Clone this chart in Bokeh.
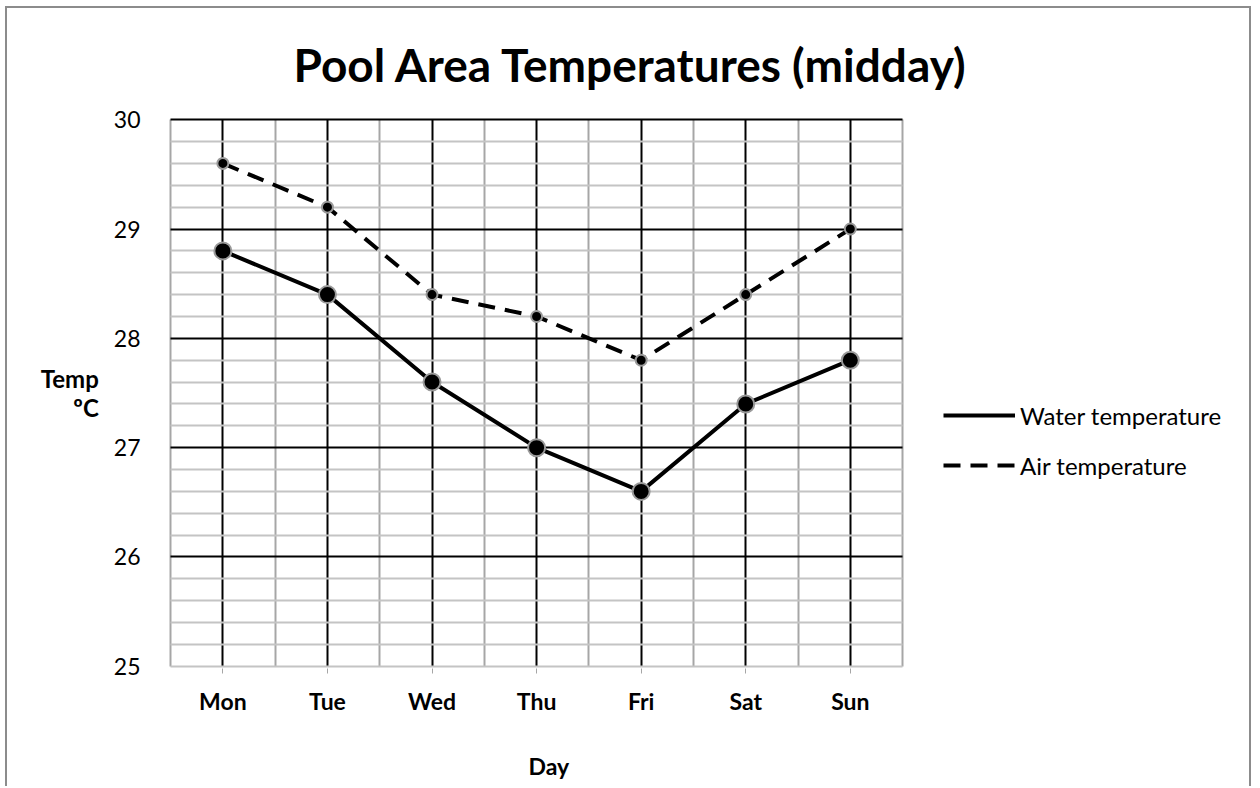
from bokeh.plotting import figure
from bokeh.models import (Range1d, FixedTicker, Legend, LegendItem, Grid, Title)
from bokeh.embed import file_html
from bokeh.resources import INLINE

days = ["Mon", "Tue", "Wed", "Thu", "Fri", "Sat", "Sun"]
water_temp = [28.8, 28.4, 27.6, 27.0, 26.6, 27.4, 27.8]
air_temp = [29.6, 29.2, 28.4, 28.2, 27.8, 28.4, 29.0]
y_ticks = [25, 26, 27, 28, 29, 30]
y_minor = [25.2, 25.4, 25.6, 25.8, 26.2, 26.4, 26.6, 26.8, 27.2, 27.4, 27.6, 27.8,
           28.2, 28.4, 28.6, 28.8, 29.2, 29.4, 29.6, 29.8]

n = len(days)
x_pos = [i + 0.5 for i in range(n)]
x_bounds = [float(i) for i in range(n + 1)]
y_min, y_max = y_ticks[0], y_ticks[-1]

FONT = "Lato"
PAD = 0.02
# plot area: 7 categories over 732 px; the frame continues to the right to host the legend
X_END = -PAD + 1082 * n / 732

p = figure(width=1246, height=780, output_backend="svg", toolbar_location=None,
           x_range=Range1d(-PAD, X_END), y_range=Range1d(y_min - PAD, y_max + PAD),
           min_border_left=161, min_border_right=3, min_border_top=108,
           min_border_bottom=120,
           styles={"margin-left": "5px", "margin-top": "6px",
                   "border-left": "2px solid #8c8c8c", "border-top": "2px solid #8c8c8c",
                   "border-right": "2px solid #8c8c8c"})

p.title.text = "Pool Area Temperatures (midday)"
p.title.align = "left"
p.title.offset = 125
p.title.text_font = FONT
p.title.text_font_size = "46px"
p.title.text_font_style = "bold"
p.title.text_color = "black"
p.title.standoff = 52

p.outline_line_color = None

p.xgrid.visible = False
p.ygrid.visible = False

xt = FixedTicker(ticks=x_pos, minor_ticks=x_bounds)
yt_axis = FixedTicker(ticks=y_ticks, minor_ticks=[])
yt_grid = FixedTicker(ticks=y_ticks[1:], minor_ticks=[y_min] + y_minor)

p.xaxis.ticker = xt
p.yaxis.ticker = yt_axis

xg = Grid(dimension=0, ticker=xt, grid_line_color="black", grid_line_width=2,
          minor_grid_line_color="#a6a6a6", minor_grid_line_width=2,
          bounds=(-PAD, n + PAD), cross_bounds=(y_min, y_max))
yg = Grid(dimension=1, ticker=yt_grid, grid_line_color="black", grid_line_width=2,
          minor_grid_line_color="#c4c4c4", minor_grid_line_width=2,
          bounds=(y_min - PAD / 2, y_max + PAD / 2), cross_bounds=(0, n))
p.add_layout(xg)
p.add_layout(yg)

p.xaxis.bounds = (0, n)
p.xaxis.major_label_overrides = {x: d for x, d in zip(x_pos, days)}
p.xaxis.axis_line_color = None
p.xaxis.major_tick_line_color = "#a6a6a6"
p.xaxis.major_tick_line_width = 1
p.xaxis.major_tick_out = 5
p.xaxis.major_tick_in = 0
p.xaxis.minor_tick_line_color = None
p.xaxis.major_label_standoff = 13
p.xaxis.major_label_text_font = FONT
p.xaxis.major_label_text_font_size = "23px"
p.xaxis.major_label_text_font_style = "bold"
p.xaxis.major_label_text_color = "black"

day_title = Title(text="\nDay", align="left", offset=360, standoff=4,
                  text_font=FONT, text_font_size="23px", text_font_style="bold",
                  text_color="black", text_line_height=1.1)
p.add_layout(day_title, "below")

p.yaxis.axis_line_color = None
p.yaxis.major_tick_line_color = None
p.yaxis.minor_tick_line_color = None
p.yaxis.major_label_standoff = 22
p.yaxis.major_label_text_font = FONT
p.yaxis.major_label_text_font_size = "23px"
p.yaxis.major_label_text_color = "black"
p.yaxis.axis_label = "Temp\nºC"
p.yaxis.axis_label_text_font = FONT
p.yaxis.axis_label_text_font_size = "24px"
p.yaxis.axis_label_text_font_style = "bold"
p.yaxis.axis_label_text_color = "black"
p.yaxis.axis_label_text_line_height = 1.0
p.yaxis.axis_label_standoff = 12
p.yaxis.axis_label_orientation = "horizontal"

air_line = p.line(x_pos, air_temp, line_color="black", line_width=4, line_dash="17 10")
air_pts = p.scatter(x_pos, air_temp, size=11, fill_color="black",
                    line_color="#9a9a9a", line_width=2)
water_line = p.line(x_pos, water_temp, line_color="black", line_width=4)
water_pts = p.scatter(x_pos, water_temp, size=17, fill_color="black",
                      line_color="#9a9a9a", line_width=2)

legend = Legend(items=[LegendItem(label="Water temperature", renderers=[water_line]),
                       LegendItem(label="Air temperature", renderers=[air_line])],
                location=(775, 183), orientation="vertical",
                glyph_width=72, glyph_height=40, label_height=40, spacing=10,
                padding=0, margin=0, label_standoff=5,
                border_line_color=None, background_fill_alpha=0,
                label_text_font=FONT, label_text_font_size="24px",
                label_text_color="black")
p.add_layout(legend)

open("out.html", "w").write(file_html(p, INLINE))
